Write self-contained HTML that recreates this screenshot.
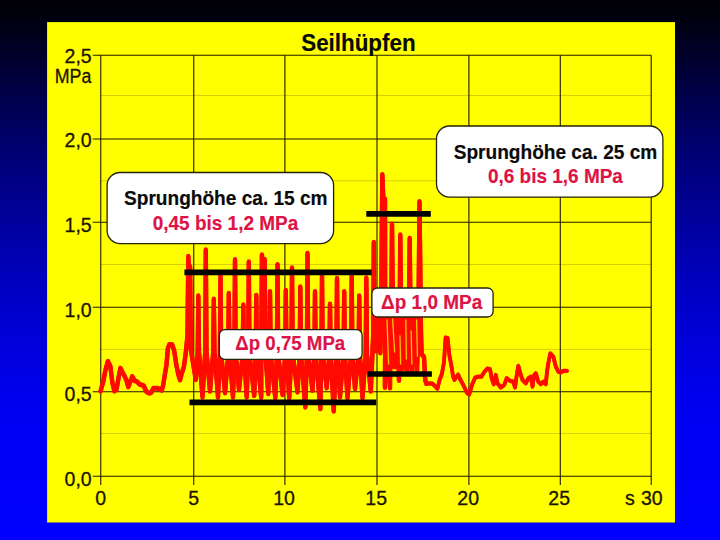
<!DOCTYPE html>
<html><head><meta charset="utf-8"><title>Seilhüpfen</title>
<style>
html,body{margin:0;padding:0;}
body{width:720px;height:540px;overflow:hidden;background:linear-gradient(to bottom,#000003 0px,#000018 30px,#00002e 60px,#00004e 100px,#000078 160px,#0000a8 240px,#0000c9 300px,#0000d5 330px,#0000ec 390px,#0000f7 440px,#0000ff 540px);font-family:"Liberation Sans",sans-serif;}
svg{display:block;position:absolute;left:0;top:0;}
text{font-family:"Liberation Sans",sans-serif;}
.ax{font-size:19.5px;fill:#1c1400;stroke:#1c1400;stroke-width:0.3px;}
.b{font-weight:bold;stroke-width:0.18px;}
.r{fill:#dc1446;stroke:#dc1446;}
.k{fill:#0a0a0a;stroke:#0a0a0a;}
</style></head><body>
<svg width="720" height="540" viewBox="0 0 720 540">
<rect x="47.1" y="22.1" width="627.9" height="500.4" fill="#ffff00"/>
<g><line x1="100.75" y1="433.5" x2="651.2" y2="433.5" stroke="#d4cc0a" stroke-width="0.9"/><line x1="100.75" y1="349.4" x2="651.2" y2="349.4" stroke="#d4cc0a" stroke-width="0.9"/><line x1="100.75" y1="264.5" x2="651.2" y2="264.5" stroke="#d4cc0a" stroke-width="0.9"/><line x1="100.75" y1="180.8" x2="651.2" y2="180.8" stroke="#d4cc0a" stroke-width="0.9"/><line x1="100.75" y1="95.5" x2="651.2" y2="95.5" stroke="#d4cc0a" stroke-width="0.9"/><line x1="92.75" y1="476.3" x2="651.2" y2="476.3" stroke="#231a00" stroke-width="1.1"/><line x1="92.75" y1="391.7" x2="651.2" y2="391.7" stroke="#231a00" stroke-width="1.1"/><line x1="92.75" y1="307.2" x2="651.2" y2="307.2" stroke="#231a00" stroke-width="1.1"/><line x1="92.75" y1="222.3" x2="651.2" y2="222.3" stroke="#231a00" stroke-width="1.1"/><line x1="92.75" y1="139.0" x2="651.2" y2="139.0" stroke="#231a00" stroke-width="1.1"/><line x1="92.75" y1="55.3" x2="651.2" y2="55.3" stroke="#231a00" stroke-width="1.1"/><line x1="100.75" y1="55.3" x2="100.75" y2="485.1" stroke="#231a00" stroke-width="1.1"/><line x1="193.75" y1="55.3" x2="193.75" y2="485.1" stroke="#231a00" stroke-width="1.1"/><line x1="284.9" y1="55.3" x2="284.9" y2="485.1" stroke="#231a00" stroke-width="1.1"/><line x1="377.0" y1="55.3" x2="377.0" y2="485.1" stroke="#231a00" stroke-width="1.1"/><line x1="468.9" y1="55.3" x2="468.9" y2="485.1" stroke="#231a00" stroke-width="1.1"/><line x1="560.3" y1="55.3" x2="560.3" y2="485.1" stroke="#231a00" stroke-width="1.1"/><line x1="651.2" y1="55.3" x2="651.2" y2="485.1" stroke="#231a00" stroke-width="1.1"/></g>
<g><text x="91.7" y="485.5" text-anchor="end" class="ax">0,0</text><text x="91.7" y="400.5" text-anchor="end" class="ax">0,5</text><text x="91.7" y="317.2" text-anchor="end" class="ax">1,0</text><text x="91.7" y="231.8" text-anchor="end" class="ax">1,5</text><text x="91.7" y="147.1" text-anchor="end" class="ax">2,0</text><text x="91.7" y="63.1" text-anchor="end" class="ax">2,5</text><text x="91.4" y="83.0" text-anchor="end" class="ax" textLength="36.6" lengthAdjust="spacingAndGlyphs">MPa</text><text x="100.6" y="505" text-anchor="middle" class="ax">0</text><text x="193.8" y="505" text-anchor="middle" class="ax">5</text><text x="284.0" y="505" text-anchor="middle" class="ax">10</text><text x="376.2" y="505" text-anchor="middle" class="ax">15</text><text x="468.2" y="505" text-anchor="middle" class="ax">20</text><text x="559.2" y="505" text-anchor="middle" class="ax">25</text><text x="662.7" y="505" text-anchor="end" class="ax">30</text><text x="624.9" y="505" class="ax">s</text></g>
<text transform="translate(358.4,51.4) scale(0.965,1)" x="0" y="0" text-anchor="middle" class="b k" style="font-size:23.2px">Seilhüpfen</text>
<g fill="none" stroke="#ff0a00" stroke-width="4.3" stroke-linejoin="round" stroke-linecap="round"><polyline points="100.6,391.1 103.3,381.4 105.4,370.3 107.9,361.3 110.3,366.1 112.4,382.8 114.4,391.1 116.5,389.7 118.6,377.2 120.4,368.2 122.8,373.0 124.4,375.8 126.3,380.0 128.3,386.9 130.4,381.4 132.2,376.5 134.6,380.7 136.7,381.4 139.4,384.2 143.6,385.6 146.4,391.8 149.2,393.2 151.3,392.5 153.3,388.3 156.8,388.3 159.6,389.0 161.7,390.4 163.1,385.6 164.4,377.2 166.5,364.7 167.9,348.1 169.3,344.6 172.1,344.6 174.2,350.8 176.3,364.7 178.3,374.4 180.0,380.0 181.8,373.1 183.9,366.8 185.9,352.0 187.5,335.0 188.3,256.3 189.3,276.0 190.1,266.6 190.9,350.0 195.8,379.8 197.7,352.0 198.3,295.8 199.0,352.0 202.5,397.1 205.2,352.0 205.8,249.9 206.5,352.0 210.0,391.3 213.2,352.0 213.8,299.1 214.5,352.0 218.0,397.1 219.9,354.0 220.5,275.6 221.2,354.0 225.0,393.0 228.2,354.0 228.8,293.3 229.5,354.0 233.0,397.1 234.4,354.0 235.0,259.6 235.7,354.0 239.0,389.6 242.7,354.0 243.3,304.9 244.0,354.0 246.7,397.1 248.2,354.0 248.8,261.9 249.5,354.0 254.2,395.5 255.7,354.0 256.3,295.3 257.0,354.0 261.2,397.5 261.3,354.0 261.9,254.9 263.5,268.0 264.7,259.6 265.4,354.0 268.3,393.8 269.4,354.0 270.0,291.6 270.7,354.0 275.3,398.0 276.9,354.0 277.5,264.6 278.2,354.0 282.5,394.6 285.2,354.0 285.8,290.3 286.5,354.0 289.2,398.0 291.4,354.0 292.0,267.9 292.7,354.0 297.5,392.1 299.7,354.0 300.3,286.9 301.0,354.0 305.3,407.1 306.9,354.0 307.5,253.3 308.2,354.0 312.5,390.5 314.4,354.0 315.0,291.6 315.7,354.0 320.3,408.8 321.4,354.0 322.0,274.6 322.7,354.0 326.7,388.0 329.4,354.0 330.0,304.1 330.7,354.0 333.7,411.3 336.4,354.0 337.0,278.3 337.7,354.0 340.0,397.1 343.6,354.0 344.2,291.6 344.9,354.0 347.5,398.0 351.1,354.0 351.7,275.6 352.4,354.0 355.0,388.8 358.6,354.0 359.2,295.8 359.9,354.0 362.5,398.0 365.7,354.0 366.3,277.9 367.0,354.0 370.8,391.3 373.2,335.0 373.8,242.4 374.5,335.0 375.9,351.0 378.0,312.0 380.3,353.0 380.9,332.0 382.3,174.6 383.6,205.0 385.0,199.1 385.2,340.0 384.9,387.5 386.6,314.0 390.0,388.0 390.6,310.0 391.1,332.0 392.0,224.1 393.1,332.0 394.3,367.0 396.3,304.0 399.0,380.5 399.5,332.0 400.3,234.9 401.3,332.0 402.8,369.0 405.0,304.0 407.3,371.0 408.9,332.0 409.7,238.3 410.7,332.0 412.1,371.0 414.6,304.0 417.0,371.0 418.3,332.0 419.5,201.6 421.0,332.0 421.6,354.0 424.0,357.0 425.2,380.0 426.3,383.5" transform="translate(0,-0.4)"/><polyline points="100.6,391.1 103.3,381.4 105.4,370.3 107.9,361.3 110.3,366.1 112.4,382.8 114.4,391.1 116.5,389.7 118.6,377.2 120.4,368.2 122.8,373.0 124.4,375.8 126.3,380.0 128.3,386.9 130.4,381.4 132.2,376.5 134.6,380.7 136.7,381.4 139.4,384.2 143.6,385.6 146.4,391.8 149.2,393.2 151.3,392.5 153.3,388.3 156.8,388.3 159.6,389.0 161.7,390.4 163.1,385.6 164.4,377.2 166.5,364.7 167.9,348.1 169.3,344.6 172.1,344.6 174.2,350.8 176.3,364.7 178.3,374.4 180.0,380.0 181.8,373.1 183.9,366.8 185.9,352.0 187.5,335.0 188.3,256.3 189.3,276.0 190.1,266.6 190.9,350.0 195.8,379.8 197.7,352.0 198.3,295.8 199.0,352.0 202.5,397.1 205.2,352.0 205.8,249.9 206.5,352.0 210.0,391.3 213.2,352.0 213.8,299.1 214.5,352.0 218.0,397.1 219.9,354.0 220.5,275.6 221.2,354.0 225.0,393.0 228.2,354.0 228.8,293.3 229.5,354.0 233.0,397.1 234.4,354.0 235.0,259.6 235.7,354.0 239.0,389.6 242.7,354.0 243.3,304.9 244.0,354.0 246.7,397.1 248.2,354.0 248.8,261.9 249.5,354.0 254.2,395.5 255.7,354.0 256.3,295.3 257.0,354.0 261.2,397.5 261.3,354.0 261.9,254.9 263.5,268.0 264.7,259.6 265.4,354.0 268.3,393.8 269.4,354.0 270.0,291.6 270.7,354.0 275.3,398.0 276.9,354.0 277.5,264.6 278.2,354.0 282.5,394.6 285.2,354.0 285.8,290.3 286.5,354.0 289.2,398.0 291.4,354.0 292.0,267.9 292.7,354.0 297.5,392.1 299.7,354.0 300.3,286.9 301.0,354.0 305.3,407.1 306.9,354.0 307.5,253.3 308.2,354.0 312.5,390.5 314.4,354.0 315.0,291.6 315.7,354.0 320.3,408.8 321.4,354.0 322.0,274.6 322.7,354.0 326.7,388.0 329.4,354.0 330.0,304.1 330.7,354.0 333.7,411.3 336.4,354.0 337.0,278.3 337.7,354.0 340.0,397.1 343.6,354.0 344.2,291.6 344.9,354.0 347.5,398.0 351.1,354.0 351.7,275.6 352.4,354.0 355.0,388.8 358.6,354.0 359.2,295.8 359.9,354.0 362.5,398.0 365.7,354.0 366.3,277.9 367.0,354.0 370.8,391.3 373.2,335.0 373.8,242.4 374.5,335.0 375.9,351.0 378.0,312.0 380.3,353.0 380.9,332.0 382.3,174.6 383.6,205.0 385.0,199.1 385.2,340.0 384.9,387.5 386.6,314.0 390.0,388.0 390.6,310.0 391.1,332.0 392.0,224.1 393.1,332.0 394.3,367.0 396.3,304.0 399.0,380.5 399.5,332.0 400.3,234.9 401.3,332.0 402.8,369.0 405.0,304.0 407.3,371.0 408.9,332.0 409.7,238.3 410.7,332.0 412.1,371.0 414.6,304.0 417.0,371.0 418.3,332.0 419.5,201.6 421.0,332.0 421.6,354.0 424.0,357.0 425.2,380.0 426.3,383.5" transform="translate(0,0.4)"/>
<g stroke-width="3.7"><polyline points="426.3,383.5 432.2,383.5 437.4,388.7 439.6,379.8 441.9,373.9 444.0,362.0 445.6,337.5 447.6,338.0 449.3,354.6 451.5,366.5 453.0,376.0 454.4,379.8 458.1,374.6 460.4,379.8 463.3,385.0 467.0,393.0 469.2,394.4 472.2,384.3 475.2,377.6 478.3,376.7 481.4,376.7 484.4,371.8 487.5,368.5 490.0,369.2 491.7,378.3 493.7,384.2 495.8,375.0 497.5,383.3 500.8,387.5 504.2,385.0 506.7,378.3 510.0,380.8 513.3,381.7 515.0,387.5 517.0,373.3 518.3,365.8 520.3,373.3 522.5,380.0 525.8,383.3 528.3,378.3 530.8,376.7 532.5,386.7 534.2,375.0 535.8,373.3 538.3,381.7 540.8,384.2 543.3,381.7 545.8,384.2 547.0,371.7 548.3,363.3 550.3,353.3 553.3,356.7 555.8,366.7 558.3,371.7 560.8,372.5 563.3,370.8 567.0,370.8" transform="translate(0,-0.3)"/><polyline points="426.3,383.5 432.2,383.5 437.4,388.7 439.6,379.8 441.9,373.9 444.0,362.0 445.6,337.5 447.6,338.0 449.3,354.6 451.5,366.5 453.0,376.0 454.4,379.8 458.1,374.6 460.4,379.8 463.3,385.0 467.0,393.0 469.2,394.4 472.2,384.3 475.2,377.6 478.3,376.7 481.4,376.7 484.4,371.8 487.5,368.5 490.0,369.2 491.7,378.3 493.7,384.2 495.8,375.0 497.5,383.3 500.8,387.5 504.2,385.0 506.7,378.3 510.0,380.8 513.3,381.7 515.0,387.5 517.0,373.3 518.3,365.8 520.3,373.3 522.5,380.0 525.8,383.3 528.3,378.3 530.8,376.7 532.5,386.7 534.2,375.0 535.8,373.3 538.3,381.7 540.8,384.2 543.3,381.7 545.8,384.2 547.0,371.7 548.3,363.3 550.3,353.3 553.3,356.7 555.8,366.7 558.3,371.7 560.8,372.5 563.3,370.8 567.0,370.8" transform="translate(0,0.3)"/></g></g>
<g stroke="#ffd800" stroke-width="1.3" stroke-linecap="round" opacity="0.9"><line x1="387.0" y1="320" x2="388.6" y2="364"/><line x1="392.6" y1="319" x2="394.6" y2="352"/><line x1="400.0" y1="336" x2="400.6" y2="364"/><line x1="405.8" y1="320" x2="406.4" y2="359"/><line x1="411.1" y1="331" x2="411.9" y2="364"/><line x1="416.6" y1="320" x2="417.4" y2="356"/></g>
<g stroke="#000" stroke-width="5.7" stroke-linecap="butt">
<line x1="184.4" y1="272.4" x2="371.6" y2="272.4"/>
<line x1="189.5" y1="402.3" x2="376.2" y2="402.3"/>
<line x1="366.3" y1="213.9" x2="430.8" y2="213.9"/>
<line x1="367.7" y1="374.0" x2="431.9" y2="374.0"/>
</g>
<g fill="#fff" stroke="#26220a" stroke-width="1.3">
<rect x="107.1" y="172.5" width="226.5" height="71.1" rx="13" ry="13"/>
<rect x="436.5" y="126.0" width="226.4" height="71.1" rx="13" ry="13"/>
<rect x="219.3" y="329.7" width="142.8" height="29.7" rx="5.5" ry="5.5"/>
<rect x="371.9" y="288.0" width="121.2" height="29.0" rx="5.5" ry="5.5"/>
</g>
<text transform="translate(225.8,205.1) scale(0.945,1)" x="0" y="0" text-anchor="middle" class="b k" style="font-size:20.2px">Sprunghöhe ca. 15 cm</text>
<text transform="translate(225.5,230.0) scale(0.94,1)" x="0" y="0" text-anchor="middle" class="b r" style="font-size:20.2px">0,45 bis 1,2 MPa</text>
<text transform="translate(555.5,158.5) scale(0.945,1)" x="0" y="0" text-anchor="middle" class="b k" style="font-size:20.2px">Sprunghöhe ca. 25 cm</text>
<text transform="translate(555.4,182.8) scale(0.94,1)" x="0" y="0" text-anchor="middle" class="b r" style="font-size:20.2px">0,6 bis 1,6 MPa</text>
<text transform="translate(290.3,350.0) scale(0.925,1)" x="0" y="0" text-anchor="middle" class="b r" style="font-size:20.2px">Δp 0,75 MPa</text>
<text transform="translate(431.7,308.6) scale(0.94,1)" x="0" y="0" text-anchor="middle" class="b r" style="font-size:20.2px">Δp 1,0 MPa</text>
</svg>
</body></html>
